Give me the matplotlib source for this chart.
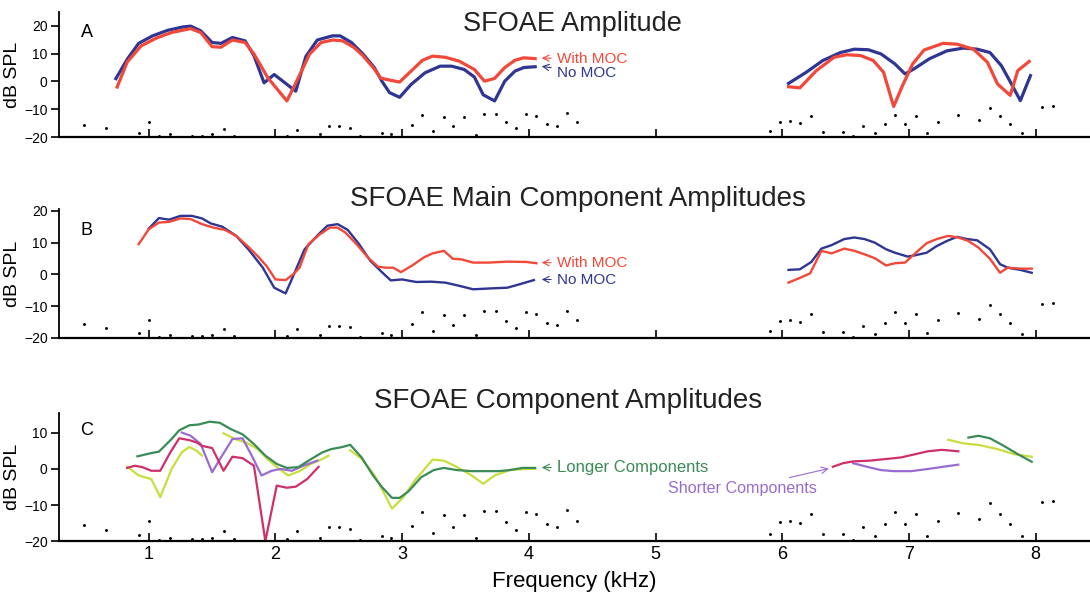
import matplotlib
matplotlib.use("Agg")
import matplotlib.pyplot as plt

plt.rcParams['font.family'] = ['Liberation Sans', 'DejaVu Sans']

# noise floor dots (same in every panel)
noise_f = [0.49, 0.66, 0.92, 1.0, 1.08, 1.17, 1.34, 1.42, 1.50, 1.59, 1.67, 2.09, 2.17,
           2.35, 2.42, 2.50, 2.59, 2.67, 2.84, 2.91, 3.08, 3.16, 3.24, 3.33, 3.40, 3.49,
           3.58, 3.65, 3.74, 3.82, 3.90, 3.98, 4.06, 4.14, 4.22, 4.30, 4.38,
           5.90, 5.98, 6.06, 6.14, 6.23, 6.32, 6.48, 6.56, 6.64, 6.73, 6.81, 6.89, 6.97,
           7.06, 7.14, 7.23, 7.39, 7.55, 7.64, 7.72, 7.80, 7.89, 8.05, 8.14]
noise_db = [-15.5, -16.8, -18.4, -14.5, -19.6, -19.0, -19.5, -19.5, -19.0, -17.2, -19.5, -19.5, -17.3,
            -19.0, -16.1, -16.1, -16.6, -19.7, -18.6, -19.0, -15.7, -11.9, -17.7, -12.8, -16.0, -12.8,
            -19.2, -11.6, -11.6, -14.7, -16.8, -11.8, -12.4, -15.2, -16.0, -11.4, -14.4,
            -17.9, -14.6, -14.3, -15.0, -12.5, -18.0, -18.0, -19.6, -16.1, -18.7, -15.3, -11.9, -15.3,
            -12.4, -18.5, -14.4, -12.1, -13.9, -9.5, -12.5, -15.3, -18.7, -9.2, -9.0]

# Panel A - SFOAE amplitude
a_f_no1 = [0.74, 0.83, 0.92, 1.03, 1.15, 1.27, 1.33, 1.41, 1.50, 1.57, 1.66, 1.76, 1.83, 1.91, 1.99,
           2.16, 2.24, 2.33, 2.45, 2.51, 2.60, 2.69, 2.78, 2.84, 2.90, 2.98, 3.07, 3.18, 3.30,
           3.39, 3.49, 3.57, 3.64, 3.73, 3.81, 3.89, 3.96, 4.05]
a_db_no1 = [1.0, 8.0, 13.7, 16.4, 18.4, 19.6, 19.9, 18.2, 14.0, 13.7, 15.8, 14.6, 9.3, -0.5, 2.5,
            -3.5, 9.0, 14.9, 16.4, 16.4, 14.0, 9.9, 5.0, 0.1, -4.0, -5.7, -1.1, 3.1, 5.5,
            5.5, 4.3, 1.6, -4.8, -7.0, 0.1, 3.7, 5.0, 5.3]
a_f_with1 = [0.75, 0.83, 0.94, 1.06, 1.18, 1.33, 1.41, 1.50, 1.57, 1.66, 1.76, 1.83, 1.94, 2.09,
             2.18, 2.27, 2.36, 2.45, 2.53, 2.62, 2.69, 2.78, 2.83, 2.90, 2.98, 3.07, 3.16, 3.24,
             3.34, 3.45, 3.57, 3.65, 3.73, 3.81, 3.89, 3.96, 4.05]
a_db_with1 = [-2.0, 7.0, 12.8, 15.6, 17.6, 19.0, 17.6, 12.5, 12.3, 14.9, 14.0, 9.9, 1.3, -7.0,
              1.3, 9.9, 14.0, 14.9, 14.6, 12.2, 9.3, 4.5, 1.2, 0.5, -0.2, 3.7, 7.6, 9.1,
              8.7, 7.3, 4.3, 0.1, 1.1, 5.0, 7.6, 8.5, 8.2]
a_f_no2 = [6.05, 6.19, 6.32, 6.46, 6.57, 6.68, 6.78, 6.89, 6.97, 7.04, 7.16, 7.30, 7.43, 7.54,
           7.64, 7.73, 7.81, 7.88, 7.96]
a_db_no2 = [-0.7, 3.3, 7.5, 10.4, 11.6, 11.4, 9.9, 6.3, 2.7, 4.5, 8.1, 11.0, 12.0, 11.6,
            10.4, 5.7, -0.9, -6.9, 2.1]
a_f_with2 = [6.05, 6.14, 6.27, 6.41, 6.51, 6.62, 6.72, 6.80, 6.88, 6.95, 7.03, 7.12, 7.27, 7.38,
             7.51, 7.62, 7.70, 7.80, 7.86, 7.95]
a_db_with2 = [-1.9, -2.3, 3.9, 8.7, 9.6, 9.3, 7.5, 3.3, -9.0, -1.5, 6.3, 11.3, 13.7, 13.4,
              11.6, 6.9, -0.9, -5.0, 3.9, 7.2]

# Panel B - main component amplitudes
b_f_with1 = [0.92, 1.0, 1.08, 1.16, 1.25, 1.33, 1.42, 1.51, 1.60, 1.69, 1.78, 1.87, 1.93, 2.0,
             2.08, 2.14, 2.19, 2.26, 2.35, 2.43, 2.49, 2.55, 2.64, 2.73, 2.81, 2.87, 2.93, 2.99,
             3.08, 3.17, 3.24, 3.33, 3.40, 3.47, 3.56, 3.68, 3.83, 3.98, 4.06]
b_db_with1 = [9.5, 14.2, 16.3, 16.5, 17.6, 17.4, 15.8, 14.7, 14.0, 12.1, 8.9, 5.3, 2.6, -1.6,
              -1.8, 0.0, 2.1, 9.5, 12.6, 14.7, 14.7, 13.2, 9.5, 5.3, 2.4, 2.1, 2.1, 0.7,
              2.8, 5.3, 6.6, 7.4, 4.9, 4.7, 3.7, 3.7, 4.0, 3.9, 3.5]
b_f_no1 = [1.0, 1.08, 1.16, 1.25, 1.34, 1.42, 1.49, 1.58, 1.69, 1.79, 1.90, 1.99, 2.08, 2.14,
           2.23, 2.34, 2.41, 2.49, 2.57, 2.66, 2.75, 2.84, 2.91, 3.0, 3.11, 3.23, 3.34, 3.44,
           3.56, 3.71, 3.83, 3.92, 4.04]
b_db_no1 = [14.4, 17.7, 17.2, 18.4, 18.4, 17.6, 16.0, 15.0, 12.1, 7.7, 2.1, -4.2, -6.0, -0.5,
            7.9, 12.6, 15.3, 15.8, 14.0, 9.5, 4.2, 0.7, -1.9, -1.6, -2.4, -2.3, -2.6, -3.5,
            -4.7, -4.4, -4.2, -3.2, -1.8]
b_f_no2 = [6.05, 6.14, 6.23, 6.31, 6.39, 6.49, 6.57, 6.65, 6.73, 6.82, 6.89, 6.99, 7.05, 7.14,
           7.22, 7.30, 7.38, 7.46, 7.54, 7.64, 7.72, 7.78, 7.88, 7.97]
b_db_no2 = [1.4, 1.6, 3.9, 8.1, 9.2, 11.1, 11.6, 11.1, 10.0, 7.9, 6.8, 5.6, 6.0, 6.8,
            8.9, 10.5, 11.8, 11.1, 10.7, 7.9, 3.2, 2.1, 1.4, 0.5]
b_f_with2 = [6.05, 6.14, 6.22, 6.31, 6.39, 6.49, 6.57, 6.65, 6.73, 6.82, 6.89, 6.97, 7.05, 7.14,
             7.22, 7.31, 7.39, 7.47, 7.55, 7.64, 7.72, 7.78, 7.88, 7.97]
b_db_with2 = [-2.6, -1.1, 0.3, 7.4, 6.6, 8.1, 7.4, 6.3, 5.1, 2.8, 3.5, 3.7, 6.6, 9.8,
              11.1, 12.1, 11.6, 10.5, 8.4, 4.9, 0.5, 2.1, 1.8, 1.8]

# Panel C - component amplitudes
c_f_long1 = [0.91, 1.02, 1.08, 1.18, 1.24, 1.32, 1.39, 1.48, 1.56, 1.65, 1.74, 1.83, 1.92, 2.01,
             2.09, 2.18, 2.27, 2.37, 2.44, 2.53, 2.59, 2.68, 2.77, 2.84, 2.92, 2.98, 3.05, 3.15,
             3.25, 3.33, 3.43, 3.55, 3.64, 3.76, 3.85, 3.95, 4.05]
c_db_long1 = [3.5, 4.4, 4.8, 8.3, 10.7, 12.1, 12.3, 13.1, 12.8, 11.0, 9.6, 6.9, 3.7, 1.4,
              0.3, 0.5, 2.5, 4.6, 5.5, 6.1, 6.7, 3.2, -1.8, -5.0, -8.0, -8.0, -6.2, -2.3,
              -0.3, 0.3, -0.3, -0.6, -0.6, -0.6, -0.3, 0.3, 0.3]
c_f_long2 = [7.47, 7.55, 7.64, 7.75, 7.86, 7.97]
c_db_long2 = [8.7, 9.2, 8.5, 6.4, 4.1, 2.0]
c_f_yel1 = [0.83, 0.92, 1.02, 1.09, 1.18, 1.26, 1.32, 1.38, 1.42]
c_db_yel1 = [0.6, -1.8, -2.8, -7.8, 0.0, 4.6, 6.1, 5.0, 3.7]
c_f_yel2 = [1.59, 1.68, 1.77, 1.86, 1.95, 2.03, 2.10, 2.19, 2.28, 2.36, 2.42]
c_db_yel2 = [9.9, 8.3, 7.3, 5.5, 2.3, 0.0, -1.8, -0.6, 1.4, 2.6, 3.7]
c_f_yel3 = [2.59, 2.68, 2.78, 2.86, 2.92, 3.01, 3.10, 3.24, 3.33, 3.43, 3.55, 3.64, 3.73, 3.85,
            3.98, 4.05]
c_db_yel3 = [5.2, 2.8, -1.6, -6.9, -11.0, -7.8, -3.2, 2.6, 2.3, 0.6, -1.8, -4.1, -1.8, -0.3,
             0.0, 0.0]
c_f_yel4 = [7.31, 7.43, 7.56, 7.70, 7.83, 7.97]
c_db_yel4 = [8.1, 7.1, 6.6, 5.5, 4.1, 3.4]
c_f_mag1 = [0.83, 0.89, 0.95, 1.02, 1.09, 1.17, 1.24, 1.32, 1.38, 1.42, 1.50, 1.59, 1.66, 1.74,
            1.83, 1.92, 2.01, 2.09, 2.16, 2.25, 2.34]
c_db_mag1 = [0.3, 0.9, 0.5, -0.5, -0.5, 4.6, 8.5, 8.0, 7.3, 6.4, 5.8, -0.5, 3.4, 3.0,
             0.9, -20.0, -4.6, -5.2, -4.9, -2.8, 0.6]
c_f_mag2 = [6.40, 6.48, 6.56, 6.69, 6.83, 6.94, 7.05, 7.15, 7.26, 7.39]
c_db_mag2 = [0.6, 1.6, 2.1, 2.3, 2.8, 3.2, 4.1, 4.9, 5.3, 4.9]
c_f_pur1 = [1.26, 1.33, 1.41, 1.50, 1.57, 1.66, 1.74, 1.82, 1.89, 1.97, 2.04, 2.13, 2.22, 2.33]
c_db_pur1 = [10.1, 9.2, 6.9, -0.9, 3.2, 8.3, 8.5, 3.2, -1.8, -0.5, 0.0, -0.5, 0.9, 2.3]
c_f_pur2 = [6.56, 6.67, 6.78, 6.88, 7.02, 7.15, 7.29, 7.39]
c_db_pur2 = [1.6, 0.6, -0.3, -0.6, -0.6, 0.0, 0.7, 1.2]

red = '#f2483a'
blue = '#2f3592'
dgreen = '#3b8b56'
yellow = '#c9dd3f'
magenta = '#cf2f6a'
purple = '#9a6bd0'

fig = plt.figure(figsize=(10.9, 5.96), dpi=100)
axA = fig.add_axes([0.054, 0.770, 0.946, 0.210])
axB = fig.add_axes([0.054, 0.433, 0.946, 0.216])
axC = fig.add_axes([0.054, 0.092, 0.946, 0.215])

for ax, top in [(axA, 25), (axB, 20.5), (axC, 15.5)]:
    ax.set_xlim(0.29, 8.43)
    ax.set_ylim(-20, top)
    ax.spines['top'].set_visible(False)
    ax.spines['right'].set_visible(False)
    ax.spines['left'].set_linewidth(1.3)
    ax.spines['bottom'].set_linewidth(1.6)
    ax.set_xticks(range(1, 9))
    ax.tick_params(axis='x', direction='in', length=6, width=1.2, labelsize=13)
    ax.tick_params(axis='y', direction='out', length=6, width=1.2, labelsize=10, pad=2)
    ax.scatter(noise_f, noise_db, s=1.2, color='k', zorder=1, clip_on=False)
    ax.set_ylabel('dB SPL', fontsize=14)
    ax.yaxis.set_label_coords(-0.037, 0.5)

axA.set_yticks([-20, -10, 0, 10, 20])
axB.set_yticks([-20, -10, 0, 10, 20])
axC.set_yticks([-20, -10, 0, 10])
axA.set_xticklabels([])
axB.set_xticklabels([])

# A
axA.plot(a_f_no1, a_db_no1, color=blue, lw=2.3)
axA.plot(a_f_with1, a_db_with1, color=red, lw=2.3)
axA.plot(a_f_no2, a_db_no2, color=blue, lw=2.3)
axA.plot(a_f_with2, a_db_with2, color=red, lw=2.3)

# B
axB.plot(b_f_no1, b_db_no1, color=blue, lw=1.7)
axB.plot(b_f_with1, b_db_with1, color=red, lw=1.7)
axB.plot(b_f_no2, b_db_no2, color=blue, lw=1.7)
axB.plot(b_f_with2, b_db_with2, color=red, lw=1.7)

# C
for fx, dy, col in [(c_f_yel1, c_db_yel1, yellow), (c_f_yel2, c_db_yel2, yellow),
                    (c_f_yel3, c_db_yel3, yellow), (c_f_yel4, c_db_yel4, yellow),
                    (c_f_pur1, c_db_pur1, purple), (c_f_pur2, c_db_pur2, purple),
                    (c_f_mag1, c_db_mag1, magenta), (c_f_mag2, c_db_mag2, magenta),
                    (c_f_long1, c_db_long1, dgreen), (c_f_long2, c_db_long2, dgreen)]:
    axC.plot(fx, dy, color=col, lw=1.6)

axC.set_xlabel('Frequency (kHz)', fontsize=16, labelpad=6)

# panel letters and titles
for ax, letter in [(axA, 'A'), (axB, 'B'), (axC, 'C')]:
    ax.text(0.021, 0.90 if ax is not axC else 0.93, letter, transform=ax.transAxes,
            fontsize=13, va='top', ha='left')

fig.text(0.525, 0.960, 'SFOAE Amplitude', fontsize=19.5, ha='center', va='center', color='#222222')
fig.text(0.530, 0.666, 'SFOAE Main Component Amplitudes', fontsize=20, ha='center', va='center', color='#222222')
fig.text(0.521, 0.328, 'SFOAE Component Amplitudes', fontsize=20, ha='center', va='center', color='#222222')

# curve labels
axA.annotate('With MOC', xy=(4.08, 8.4), xytext=(4.22, 8.2), color=red, fontsize=11,
             va='center', arrowprops=dict(arrowstyle='->', color=red, lw=0.8))
axA.annotate('No MOC', xy=(4.08, 5.6), xytext=(4.22, 3.0), color=blue, fontsize=11,
             va='center', arrowprops=dict(arrowstyle='->', color=blue, lw=0.8))
axB.annotate('With MOC', xy=(4.08, 3.7), xytext=(4.22, 3.6), color=red, fontsize=11,
             va='center', arrowprops=dict(arrowstyle='->', color=red, lw=0.8))
axB.annotate('No MOC', xy=(4.08, -1.6), xytext=(4.22, -1.7), color=blue, fontsize=11,
             va='center', arrowprops=dict(arrowstyle='->', color=blue, lw=0.8))
axC.annotate('Longer Components', xy=(4.08, 0.4), xytext=(4.22, 0.4), color=dgreen, fontsize=12,
             va='center', arrowprops=dict(arrowstyle='->', color=dgreen, lw=0.8))
axC.annotate('Shorter Components', xy=(6.39, 0.3), xytext=(6.27, -5.4), color=purple, fontsize=11.6,
             va='center', ha='right', arrowprops=dict(arrowstyle='->', color=purple, lw=0.8))

fig.savefig('out.png', dpi=100)
